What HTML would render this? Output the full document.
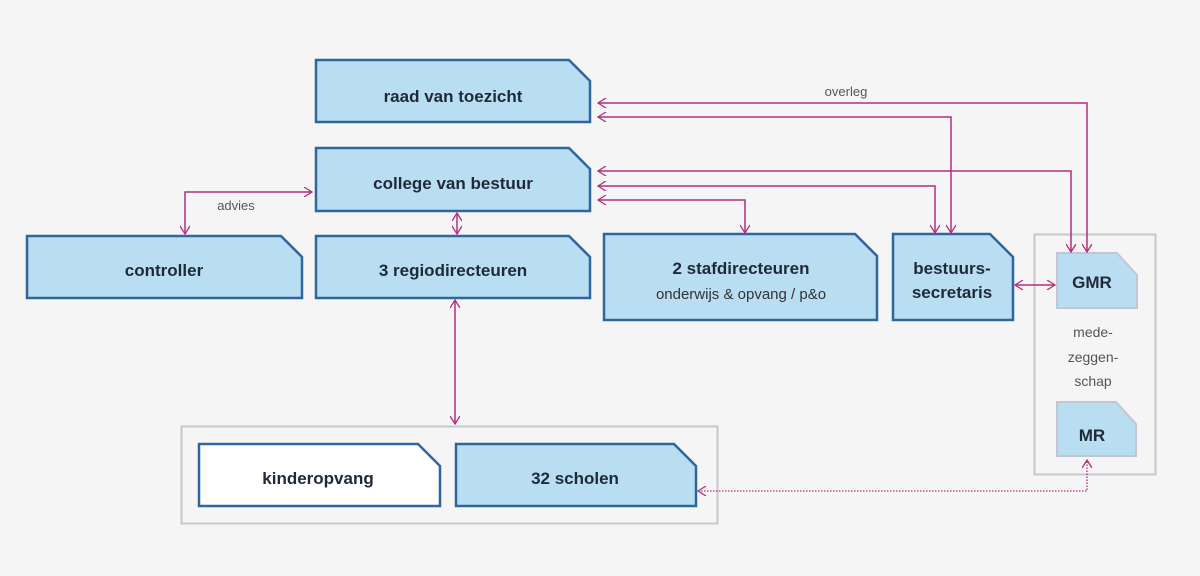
<!DOCTYPE html>
<html><head><meta charset="utf-8"><style>
html,body{margin:0;padding:0;background:#f5f5f6;}
svg{display:block;}
text{font-family:"Liberation Sans",sans-serif;}
.b{font-weight:bold;font-size:17px;fill:#1e2a38;}
.s{font-size:13px;fill:#555;}
</style></head><body>
<svg width="1200" height="576" viewBox="0 0 1200 576" xmlns="http://www.w3.org/2000/svg">
<defs>
<marker id="a" viewBox="0 0 10 10" refX="9" refY="5" markerWidth="10" markerHeight="10" markerUnits="userSpaceOnUse" orient="auto-start-reverse">
<path d="M1,0 L9,5 L1,10" fill="none" stroke="#b0307d" stroke-width="1.3"/>
</marker>
</defs>
<rect width="1200" height="576" fill="#f5f5f6"/>
<!-- containers -->
<rect x="1034.5" y="234.5" width="121" height="240" fill="none" stroke="#c6c6d0" stroke-width="2"/>
<rect x="181.5" y="426.5" width="536" height="97" fill="none" stroke="#c6c6d0" stroke-width="2"/>
<g fill="#b9ddf1" stroke="#2f679d" stroke-width="2.5">
<path d="M316,60 H569 L590,81 V122 H316Z"/>
<path d="M316,148 H569 L590,169 V211 H316Z"/>
<path d="M27,236 H281 L302,257 V298 H27Z"/>
<path d="M316,236 H569 L590,257 V298 H316Z"/>
<path d="M604,234 H855 L877,256 V320 H604Z"/>
<path d="M893,234 H990 L1013,257 V320 H893Z"/>
<path d="M456,444 H674 L696,466 V506 H456Z"/>
<path d="M199,444 H418 L440,466 V506 H199Z" fill="#ffffff"/>
</g>
<g fill="#b9ddf1" stroke="#c3c6d2" stroke-width="2">
<path d="M1057,253 H1117 L1137,275 V308 H1057Z"/>
<path d="M1057,402 H1116 L1136,424 V456 H1057Z"/>
</g>
<!-- connectors -->
<g fill="none" stroke="#b0307d" stroke-width="1.5">
<path d="M1087,252 V103 H598" marker-start="url(#a)" marker-end="url(#a)"/>
<path d="M951,233 V117 H598" marker-start="url(#a)" marker-end="url(#a)"/>
<path d="M1071,252 V171 H598" marker-start="url(#a)" marker-end="url(#a)"/>
<path d="M935,233 V186 H598" marker-start="url(#a)" marker-end="url(#a)"/>
<path d="M745,233 V200 H598" marker-start="url(#a)" marker-end="url(#a)"/>
<path d="M185,234 V192 H312" marker-start="url(#a)" marker-end="url(#a)"/>
<path d="M457,213 V234" marker-start="url(#a)" marker-end="url(#a)"/>
<path d="M455,300 V424" marker-start="url(#a)" marker-end="url(#a)"/>
<path d="M1015,285 H1055" marker-start="url(#a)" marker-end="url(#a)"/>
<path d="M698,491 H1087 V460" stroke-dasharray="1.5 1.5" stroke-width="1.3" marker-start="url(#a)" marker-end="url(#a)"/>
</g>
<!-- labels -->
<text class="b" x="453" y="102" text-anchor="middle">raad van toezicht</text>
<text class="b" x="453" y="189" text-anchor="middle">college van bestuur</text>
<text class="b" x="164" y="276" text-anchor="middle">controller</text>
<text class="b" x="453" y="276" text-anchor="middle">3 regiodirecteuren</text>
<text class="b" x="741" y="274" text-anchor="middle">2 stafdirecteuren</text>
<text x="741" y="299" text-anchor="middle" font-size="15" fill="#333">onderwijs &amp; opvang / p&amp;o</text>
<text class="b" x="952" y="274" text-anchor="middle">bestuurs-</text>
<text class="b" x="952" y="298" text-anchor="middle">secretaris</text>
<text class="b" x="1092" y="288" text-anchor="middle" font-size="18">GMR</text>
<text class="b" x="1092" y="441" text-anchor="middle" font-size="18">MR</text>
<text x="1093" y="337" text-anchor="middle" font-size="14" fill="#555">mede-</text>
<text x="1093" y="362" text-anchor="middle" font-size="14" fill="#555">zeggen-</text>
<text x="1093" y="386" text-anchor="middle" font-size="14" fill="#555">schap</text>
<text class="b" x="318" y="484" text-anchor="middle">kinderopvang</text>
<text class="b" x="575" y="484" text-anchor="middle">32 scholen</text>
<text class="s" x="846" y="96" text-anchor="middle">overleg</text>
<text class="s" x="236" y="210" text-anchor="middle">advies</text>
</svg>
</body></html>
